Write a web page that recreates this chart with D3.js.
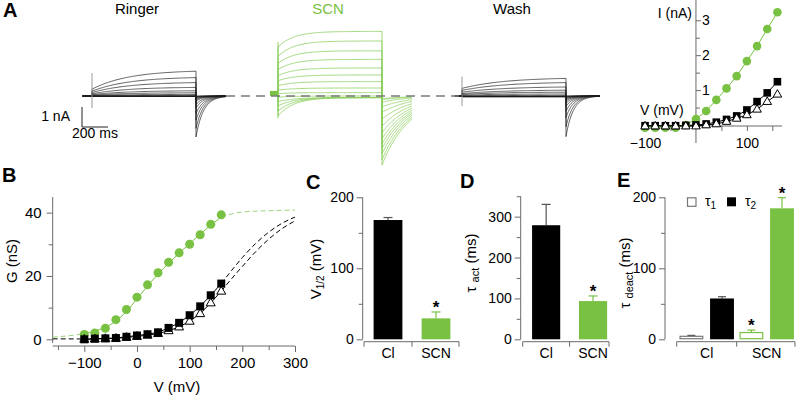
<!DOCTYPE html>
<html><head><meta charset="utf-8">
<script src="https://cdn.jsdelivr.net/npm/d3@7"></script>
<style>body{margin:0;background:#fff} svg{display:block} text{font-family:"Liberation Sans",Arial,Helvetica,sans-serif}</style>
</head><body><svg id="c" width="796" height="395"></svg>
<script>
// ---------------- DATA ----------------
const stepsMV = [-100,-80,-60,-40,-20,0,20,40,60,80,100,120,140,160];
// I–V (nA), steady state at end of pulse (panel A inset and traces)
const ivRinger = [-0.02,-0.02,-0.02,-0.02,-0.01,0.00,0.03,0.08,0.16,0.26,0.43,0.67,0.92,1.24];
const ivSCN    = [-0.08,-0.08,-0.08,-0.08,0.00,0.17,0.40,0.72,1.05,1.40,1.83,2.26,2.75,3.23];
const ivWash   = [-0.03,-0.03,-0.03,-0.03,-0.03,-0.03,0.00,0.03,0.10,0.19,0.29,0.45,0.67,0.88];
// current at pulse onset (nA)
const onsetRinger = [-0.02,-0.02,-0.02,-0.02,-0.01,0.00,0.01,0.02,0.04,0.07,0.11,0.17,0.24,0.34];
const onsetSCN    = [-1.00,-0.75,-0.50,-0.28,-0.06,0.12,0.29,0.52,0.76,1.01,1.32,1.63,1.98,2.45];
const onsetWash   = [-0.03,-0.03,-0.03,-0.03,-0.03,-0.03,0.00,0.01,0.04,0.08,0.12,0.19,0.28,0.38];
// capacitive artifacts at pulse onset (nA: top, bottom)
const artRinger = [1.15,-0.6];
const artSCN = [2.7,-1.1];
const artWash = [0.97,-0.5];
// G–V (nS), panel B
const gRinger = [0.0,0.2,0.3,0.4,0.8,1.2,1.6,2.2,3.6,5.2,7.6,10.4,13.9,17.6];
const gSCN    = [1.5,2.0,3.5,6.2,9.4,13.3,17.2,21.0,24.3,27.3,30.0,33.0,36.3,39.3];
const gWash   = [0.0,0.1,0.2,0.3,0.6,0.9,1.3,1.8,2.7,3.9,5.7,8.1,11.5,15.2];
// fitted curves [mV, nS]
const fitSCNV = [-160,-130,-100,-80,-60,-40,-20,0,20,40,60,80,100,120,140,160,180,200,250,300];
const fitSCNG = [0.7,1.1,1.8,2.6,3.8,5.8,8.8,12.8,16.8,20.6,24.0,27.2,30.2,33.2,36.0,38.6,39.6,40.2,40.6,40.8];
const fitRingerV = [160,180,200,225,250,275,300];
const fitRingerG = [17.6,21.8,25.8,30.2,33.8,36.6,38.6];
const fitWashV = [160,180,200,225,250,275,300];
const fitWashG = [15.2,19.2,23.0,27.6,31.6,34.9,37.4];
const fitLowV = [-160,-100], fitLowG = [0.15,0.1];
// panels C, D, E
const cats = ["Cl","SCN"];
const vHalf = [168,29.5], vHalfErr = [3.5,9];
const tauAct = [279,93.5], tauActErr = [51,12.5];
const tau1 = [4.2,9.5], tau1Err = [1.3,3.5];
const tau2 = [57.5,184.5], tau2Err = [2.5,15];
// trace kinetics (ms) and tail scaling (nA per nS)
const tauOnTrace = [280,120,320];
const tauTailTrace = [57,210,55];
const tailPerG = [0.1165,0.0878,0.1336];
const holdSCN = 0.13;

// ---------------- STYLE ----------------
const svg = d3.select("#c");
const FONT = '"Liberation Sans",Arial,Helvetica,sans-serif';
const GREEN = "#79c143", TRG = "#8ccf5e", AX = "#6a6a6a";

function txt(x,y,s,o={}){
  return svg.append("text").attr("x",x).attr("y",y).text(s)
    .attr("font-size",o.fs||14).attr("fill",o.fill||"#000")
    .attr("text-anchor",o.anchor||"start").attr("font-weight",o.fw||"normal");
}
function styleAx(g,fs){
  g.select(".domain").remove();
  g.selectAll("line").attr("stroke",AX).attr("stroke-width",1);
  g.selectAll("text").attr("font-size",fs).attr("font-family",FONT).attr("fill","#000");
}
function vline(x,y1,y2,c=AX,w=1){svg.append("line").attr("x1",x).attr("x2",x).attr("y1",y1).attr("y2",y2).attr("stroke",c).attr("stroke-width",w);}
function hline(y,x1,x2,c=AX,w=1){svg.append("line").attr("x1",x1).attr("x2",x2).attr("y1",y).attr("y2",y).attr("stroke",c).attr("stroke-width",w);}
const zip = (a,b)=>a.map((v,i)=>[v,b[i]]);

// panel letters
[["A",3,17],["B",2,182],["C",306,189],["D",460,188],["E",617,187]].forEach(d=>txt(d[1],d[2],d[0],{fs:20,fw:"bold"}));

// ---------------- PANEL A traces ----------------
const yA = d3.scaleLinear().domain([0,1]).range([96,76]);
const conds = [
  {iss:ivRinger,on:onsetRinger,g:gRinger,art:artRinger,x0:92,tPre:-72,tEnd:230,hold:0,col:"#1c1c1c",w:0.7,artCol:"#999"},
  {iss:ivSCN,on:onsetSCN,g:gSCN,art:artSCN,x0:278,tPre:-2,tEnd:232,hold:holdSCN,col:TRG,w:0.8,artCol:TRG},
  {iss:ivWash,on:onsetWash,g:gWash,art:artWash,x0:462,tPre:-55,tEnd:262,hold:0,col:"#1c1c1c",w:0.7,artCol:"#999"}
];
conds.forEach((c,ci)=>{
  const xT = d3.scaleLinear().domain([0,800]).range([c.x0,c.x0+104]);
  const line = d3.line().x(d=>xT(d[0])).y(d=>yA(d[1]));
  const g = svg.append("g");
  const tauOn = tauOnTrace[ci], tauT = tauTailTrace[ci];
  vline(xT(0), yA(c.art[0]), yA(c.art[1]), c.artCol, 1);
  stepsMV.forEach((v,i)=>{
    const pts = [[c.tPre,c.hold],[0,c.hold]];
    const I0 = c.on[i], Iss = c.iss[i], norm = 1-Math.exp(-800/tauOn);
    d3.range(0,801,8).forEach(t=>pts.push([t, I0+(Iss-I0)*(1-Math.exp(-t/tauOn))/norm]));
    const peak = -c.g[i]*tailPerG[ci];
    d3.range(0,c.tEnd+0.1,3).forEach(t=>pts.push([800+t, peak*Math.exp(-t/tauT)]));
    g.append("path").attr("d",line(pts)).attr("fill","none").attr("stroke",c.col).attr("stroke-width",c.w);
  });
  if(ci===1){
    g.append("path").attr("d",line([[-62,holdSCN],[0,holdSCN]])).attr("stroke",GREEN).attr("stroke-width",5).attr("fill","none");
  }
});
// dashed zero-current line
svg.append("line").attr("x1",226).attr("x2",459).attr("y1",yA(0)).attr("y2",yA(0))
  .attr("stroke","#7a7a7a").attr("stroke-width",1.6).attr("stroke-dasharray","9,6");
// scale bar
vline(82,107,127,"#222",1); hline(127,82,108,"#222",1);
txt(70,121,"1 nA",{fs:14,anchor:"end"});
txt(72,138,"200 ms",{fs:14});
txt(137,14,"Ringer",{fs:15,anchor:"middle"});
txt(328,14,"SCN",{fs:15,anchor:"middle",fill:GREEN});
txt(512,14,"Wash",{fs:15,anchor:"middle"});

// ---------------- PANEL A inset I–V ----------------
const xIV = d3.scaleLinear().domain([-106,169]).range([642,782]);
const yIV = d3.scaleLinear().domain([0,3.58]).range([125,0]);
vline(xIV(0),0,143); hline(126,xIV(-106),xIV(169));
{
  const g1 = svg.append("g").attr("transform",`translate(${xIV(0)},0)`)
    .call(d3.axisRight(yIV).tickValues([1,2,3]).tickSize(5).tickPadding(1).tickFormat(d3.format("d")));
  styleAx(g1,14);
  const g2 = svg.append("g").attr("transform",`translate(${xIV(0)},0)`)
    .call(d3.axisRight(yIV).tickValues([0.5,1.5,2.5]).tickSize(4).tickFormat(""));
  styleAx(g2,14);
  const g3 = svg.append("g").attr("transform",`translate(0,126)`)
    .call(d3.axisBottom(xIV).tickValues([-100,100]).tickSize(5).tickPadding(7).tickFormat(d3.format("d")));
  styleAx(g3,14);
  const g4 = svg.append("g").attr("transform",`translate(0,126)`)
    .call(d3.axisBottom(xIV).tickValues([-50,50,150]).tickSize(5).tickFormat(""));
  styleAx(g4,14);
}
txt(692,18,"I (nA)",{fs:14,anchor:"end"});
txt(640,115,"V (mV)",{fs:14});
const lineIV = d3.line().x(d=>xIV(d[0])).y(d=>yIV(d[1]));
svg.append("path").attr("d",lineIV(zip(stepsMV,ivSCN))).attr("fill","none").attr("stroke",GREEN).attr("stroke-width",1);
svg.append("path").attr("d",lineIV(zip(stepsMV,ivRinger))).attr("fill","none").attr("stroke","#000").attr("stroke-width",1);
svg.append("path").attr("d",lineIV(zip(stepsMV,ivWash))).attr("fill","none").attr("stroke","#000").attr("stroke-width",1);
function tri(cx,cy,s){const h=s*0.866;return `M${cx},${cy-h*0.62}L${cx+s/2},${cy+h*0.38}L${cx-s/2},${cy+h*0.38}Z`;}
svg.append("g").selectAll("circle").data(zip(stepsMV,ivSCN)).join("circle")
  .attr("cx",d=>xIV(d[0])).attr("cy",d=>yIV(d[1])).attr("r",4.3).attr("fill",GREEN);
svg.append("g").selectAll("rect").data(zip(stepsMV,ivRinger)).join("rect")
  .attr("x",d=>xIV(d[0])-3.8).attr("y",d=>yIV(d[1])-3.8).attr("width",7.6).attr("height",7.6).attr("fill","#000");
svg.append("g").selectAll("path").data(zip(stepsMV,ivWash)).join("path")
  .attr("d",d=>tri(xIV(d[0]),yIV(d[1]),8.6)).attr("fill","#fff").attr("stroke","#000").attr("stroke-width",1);

// ---------------- PANEL B ----------------
const xB = d3.scaleLinear().domain([-160,300]).range([52.7,295]);
const yB = d3.scaleLinear().domain([0,45]).range([339.3,196.8]);
vline(52.7,197,343); hline(346,52.7,295);
{
  const a = svg.append("g").attr("transform","translate(52.7,0)").call(d3.axisLeft(yB).tickValues([0,20,40]).tickSize(6).tickPadding(5)); styleAx(a,15);
  const b = svg.append("g").attr("transform","translate(52.7,0)").call(d3.axisLeft(yB).tickValues([10,30]).tickSize(4).tickFormat("")); styleAx(b,15);
  const c = svg.append("g").attr("transform","translate(0,346)").call(d3.axisBottom(xB).tickValues([-100,0,100,200,300]).tickSize(6).tickPadding(5)); styleAx(c,15);
  const d = svg.append("g").attr("transform","translate(0,346)").call(d3.axisBottom(xB).tickValues([-150,-50,50,150,250]).tickSize(4).tickFormat("")); styleAx(d,15);
}
txt(177,392,"V (mV)",{fs:15,anchor:"middle"});
svg.append("text").attr("transform","translate(17,261) rotate(-90)").attr("text-anchor","middle").attr("font-size",15).text("G (nS)");
const lineB = d3.line().x(d=>xB(d[0])).y(d=>yB(d[1]));
const curveB = d3.line().x(d=>xB(d[0])).y(d=>yB(d[1])).curve(d3.curveMonotoneX);
const dpath = (gen,pts,col,dash,w=1)=>svg.append("path").attr("d",gen(pts)).attr("fill","none").attr("stroke",col).attr("stroke-width",w).attr("stroke-dasharray",dash);
const scnFit = zip(fitSCNV,fitSCNG);
dpath(curveB,scnFit.filter(d=>d[0]<=-100),"#9bd47a","5,3");
dpath(curveB,scnFit.filter(d=>d[0]>=160),"#9bd47a","5,3");
dpath(curveB,scnFit.filter(d=>d[0]>=-100&&d[0]<=160),GREEN,null);
dpath(lineB,zip(fitLowV,fitLowG),"#000","5,3");
dpath(curveB,zip(fitRingerV,fitRingerG),"#000","5,3");
dpath(curveB,zip(fitWashV,fitWashG),"#000","5,3");
dpath(lineB,zip(stepsMV,gRinger),"#000",null);
dpath(lineB,zip(stepsMV,gWash),"#000",null);
svg.append("g").selectAll("circle").data(zip(stepsMV,gSCN)).join("circle")
  .attr("cx",d=>xB(d[0])).attr("cy",d=>yB(d[1])).attr("r",4.5).attr("fill",GREEN);
svg.append("g").selectAll("path").data(zip(stepsMV,gWash)).join("path")
  .attr("d",d=>tri(xB(d[0]),yB(d[1]),9)).attr("fill","#fff").attr("stroke","#000").attr("stroke-width",1);
svg.append("g").selectAll("rect").data(zip(stepsMV,gRinger)).join("rect")
  .attr("x",d=>xB(d[0])-4).attr("y",d=>yB(d[1])-4).attr("width",8).attr("height",8).attr("fill","#000");

// ---------------- bar panels helper ----------------
function barPanel(o){
  const y = o.y;
  vline(o.ax, y(o.top), y(0));
  const a = svg.append("g").attr("transform",`translate(${o.ax},0)`).call(d3.axisLeft(y).tickValues(o.major).tickSize(6).tickPadding(3)); styleAx(a,14);
  const b = svg.append("g").attr("transform",`translate(${o.ax},0)`).call(d3.axisLeft(y).tickValues(o.minor).tickSize(4).tickFormat("")); styleAx(b,14);
  const yx = 341.7;
  hline(yx, o.x.range()[0], o.xEnd);
  const bw = o.x.bandwidth();
  const mid = (o.x(cats[0])+bw+o.x(cats[1]))/2;
  [o.x.range()[0], mid, o.xEnd].forEach(t=>vline(t,yx,yx+5));
  const c = svg.append("g").attr("transform",`translate(0,${yx})`).call(d3.axisBottom(o.x).tickSize(0).tickPadding(6)); styleAx(c,14);
}
function errBar(cx,y0,y1,col,cap=9){vline(cx,y0,y1,col,1.2); hline(y1,cx-cap/2,cx+cap/2,col,1.2);}
function star(cx,yTop){txt(cx,yTop+1,"*",{fs:17,fw:"bold",anchor:"middle"});}

// ---------------- PANEL C ----------------
const yC = d3.scaleLinear().domain([0,200]).range([339.3,197.3]);
const xC = d3.scaleBand().domain(cats).range([364,460]).paddingInner(0.4).paddingOuter(0.2);
barPanel({y:yC,x:xC,ax:362.7,top:200,major:[0,100,200],minor:[50,150],xEnd:459});
cats.forEach((k,i)=>{
  const col = i?GREEN:"#000", ecol = i?GREEN:"#555";
  errBar(xC(k)+xC.bandwidth()/2, yC(vHalf[i]), yC(vHalf[i]+vHalfErr[i]), ecol);
  svg.append("rect").attr("x",xC(k)).attr("y",yC(vHalf[i])).attr("width",xC.bandwidth()).attr("height",yC(0)-yC(vHalf[i])).attr("fill",col);
});
star(xC("SCN")+xC.bandwidth()/2, yC(vHalf[1]+vHalfErr[1]));
{
  const t = svg.append("text").attr("transform","translate(321,269) rotate(-90)").attr("text-anchor","middle").attr("font-size",15);
  t.append("tspan").text("V");
  t.append("tspan").attr("font-size",10).attr("dy",3).text("1/2");
  t.append("tspan").attr("dy",-3).text(" (mV)");
}

// ---------------- PANEL D ----------------
const yD = d3.scaleLinear().domain([0,350]).range([339.3,196.2]);
const xD = d3.scaleBand().domain(cats).range([522.7,616.5]).paddingInner(0.4).paddingOuter(0.2);
barPanel({y:yD,x:xD,ax:520.7,top:350,major:[0,100,200,300],minor:[50,150,250,350],xEnd:609});
cats.forEach((k,i)=>{
  const col = i?GREEN:"#000", ecol = i?GREEN:"#555";
  errBar(xD(k)+xD.bandwidth()/2, yD(tauAct[i]), yD(tauAct[i]+tauActErr[i]), ecol);
  svg.append("rect").attr("x",xD(k)).attr("y",yD(tauAct[i])).attr("width",xD.bandwidth()).attr("height",yD(0)-yD(tauAct[i])).attr("fill",col);
});
star(xD("SCN")+xD.bandwidth()/2, yD(tauAct[1]+tauActErr[1]));
{
  const t = svg.append("text").attr("transform","translate(476,263) rotate(-90)").attr("text-anchor","middle").attr("font-size",15);
  t.append("tspan").text("τ ");
  t.append("tspan").attr("font-size",11).attr("dy",3).text("act");
  t.append("tspan").attr("dy",-3).text(" (ms)");
}

// ---------------- PANEL E ----------------
const yE = d3.scaleLinear().domain([0,200]).range([339.3,197.3]);
const xE = d3.scaleBand().domain(cats).range([676.7,796.7]);
const sub = d3.scaleBand().domain(["t1","t2"]).range([0,xE.bandwidth()]).paddingInner(0.22).paddingOuter(0.09);
vline(665,yE(200),yE(0));
{
  const a = svg.append("g").attr("transform","translate(665,0)").call(d3.axisLeft(yE).tickValues([0,100,200]).tickSize(6).tickPadding(3)); styleAx(a,14);
  const b = svg.append("g").attr("transform","translate(665,0)").call(d3.axisLeft(yE).tickValues([50,150]).tickSize(4).tickFormat("")); styleAx(b,14);
  hline(341.7,676.7,795);
  [676.7,xE("SCN"),795].forEach(t=>vline(t,341.7,346.7));
  const c = svg.append("g").attr("transform","translate(0,341.7)").call(d3.axisBottom(xE).tickSize(0).tickPadding(6)); styleAx(c,14);
}
cats.forEach((k,i)=>{
  const col = i?GREEN:"#000", ecol = i?GREEN:"#555", ocol = i?GREEN:"#777";
  const bw = sub.bandwidth();
  const x1 = xE(k)+sub("t1"), x2 = xE(k)+sub("t2");
  errBar(x1+bw/2, yE(tau1[i]), yE(tau1[i]+tau1Err[i]), ecol, 8);
  svg.append("rect").attr("x",x1+0.6).attr("y",yE(tau1[i])).attr("width",bw-1.2).attr("height",yE(0)-yE(tau1[i])-0.6).attr("fill","#fff").attr("stroke",ocol).attr("stroke-width",1.2);
  errBar(x2+bw/2, yE(tau2[i]), yE(tau2[i]+tau2Err[i]), ecol, 8);
  svg.append("rect").attr("x",x2).attr("y",yE(tau2[i])).attr("width",bw).attr("height",yE(0)-yE(tau2[i])).attr("fill",col);
});
star(xE("SCN")+sub("t1")+sub.bandwidth()/2, yE(tau1[1]+tau1Err[1]));
star(xE("SCN")+sub("t2")+sub.bandwidth()/2, yE(tau2[1]+tau2Err[1]));
svg.append("rect").attr("x",687.5).attr("y",197.8).attr("width",8.5).attr("height",8.5).attr("fill","#fff").attr("stroke","#777").attr("stroke-width",1.2);
svg.append("rect").attr("x",727).attr("y",197.3).attr("width",9).attr("height",9).attr("fill","#000");
[[705,"1"],[745,"2"]].forEach(d=>{
  const t = svg.append("text").attr("x",d[0]).attr("y",206).attr("font-size",14);
  t.append("tspan").text("τ");
  t.append("tspan").attr("font-size",10).attr("dy",3).text(d[1]);
});
{
  const t = svg.append("text").attr("transform","translate(630,273) rotate(-90)").attr("text-anchor","middle").attr("font-size",15);
  t.append("tspan").text("τ ");
  t.append("tspan").attr("font-size",11).attr("dy",3).text("deact");
  t.append("tspan").attr("dy",-3).text(" (ms)");
}
</script></body></html>
